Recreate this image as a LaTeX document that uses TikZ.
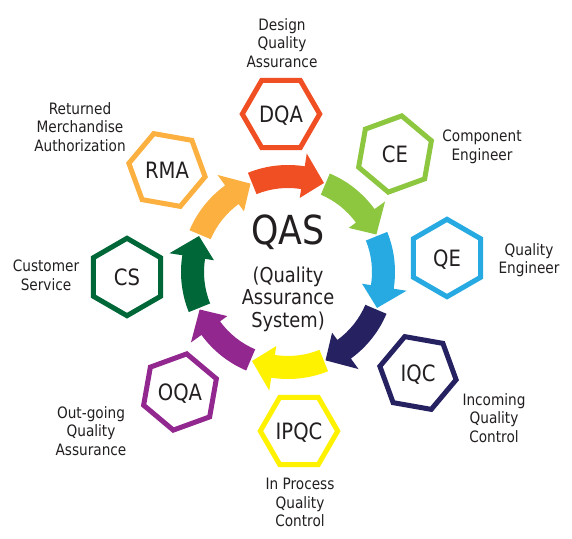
\documentclass[tikz,border=0pt]{standalone}
\usepackage{fontspec}
\setmainfont{DejaVu Sans}[FakeStretch=0.87]
\usetikzlibrary{calc}
\definecolor{cDQA}{HTML}{F04E23}
\definecolor{cCE}{HTML}{8DC63F}
\definecolor{cQE}{HTML}{27AAE1}
\definecolor{cIQC}{HTML}{262262}
\definecolor{cIPQC}{HTML}{FFF200}
\definecolor{cOQA}{HTML}{92278F}
\definecolor{cCS}{HTML}{006838}
\definecolor{cRMA}{HTML}{FBB040}
\definecolor{txt}{HTML}{231F20}
\begin{document}
\begin{tikzpicture}[x=1pt,y=1pt,
  hexlabel/.style={font=\fontsize{22.5}{26}\selectfont, text=txt, inner sep=0pt, anchor=base},
  hexline/.style={line width=5pt, line join=miter},
  caption/.style={font=\fontsize{15.7}{18.5}\selectfont, align=center, anchor=north, text=txt, inner sep=0pt},
  ringarrow/.style={draw=none}]
\useasboundingbox (0,0) rectangle (572,538);
\fill[white] (0,0) rectangle (572,538);
\coordinate (C) at (288,266);

% ring of curved arrows
\foreach \t/\c in {90/cDQA, 45/cCE, 0/cQE, -45/cIQC, -90/cIPQC, -135/cOQA, -180/cCS, -225/cRMA}{
  \fill[\c, ringarrow, shift={(C)}] (\t+22:107) arc[start angle=\t+22, end angle=\t-9, radius=107]
     -- (\t-9:120) -- (\t-22:96) -- (\t-9:75) -- (\t-9:84)
     arc[start angle=\t-9, end angle=\t+22, radius=84] -- cycle;
}

% hexagons with their labels
\foreach \n/\px/\py/\r/\c in {DQA/281/424/0/cDQA, CE/395/384/20/cCE, QE/447/280/30/cQE,
    IQC/418/165/50/cIQC, IPQC/299/107/0/cIPQC, OQA/180/146/20/cOQA, CS/127/261/30/cCS, RMA/167/368/50/cRMA}{
  \node[hexlabel] (\n) at (\px,\py-8.2) {\n};
  \draw[\c, hexline, shift={(\px,\py)}] plot[samples at={0,60,...,300}, variable=\a] (\a+\r:38.7) -- cycle;
}

% centre text
\node[font=\fontsize{40}{44}\selectfont, text=txt, inner sep=0pt, anchor=base] (qas) at (288,293) {QAS};
\node[font=\fontsize{20.5}{22.5}\selectfont, text=txt, inner sep=0pt, align=center, anchor=north] (qasfull) at (288,271.6) {(Quality\\Assurance\\System)};

% captions
\node[caption] (tDQA) at (282,519.9) {Design\\Quality\\Assurance};
\node[caption] (tRMA) at (80,435.9) {Returned\\Merchandise\\Authorization};
\node[caption] (tCE) at (482,407.9) {Component\\Engineer};
\node[caption] (tQE) at (529,294.9) {Quality\\Engineer};
\node[caption] (tIQC) at (494,144.9) {Incoming\\Quality\\Control};
\node[caption] (tIPQC) at (300,59.9) {In Process\\Quality\\Control};
\node[caption] (tOQA) at (91,131.9) {Out-going\\Quality\\Assurance};
\node[caption] (tCS) at (46,277.9) {Customer\\Service};
\end{tikzpicture}
\end{document}
